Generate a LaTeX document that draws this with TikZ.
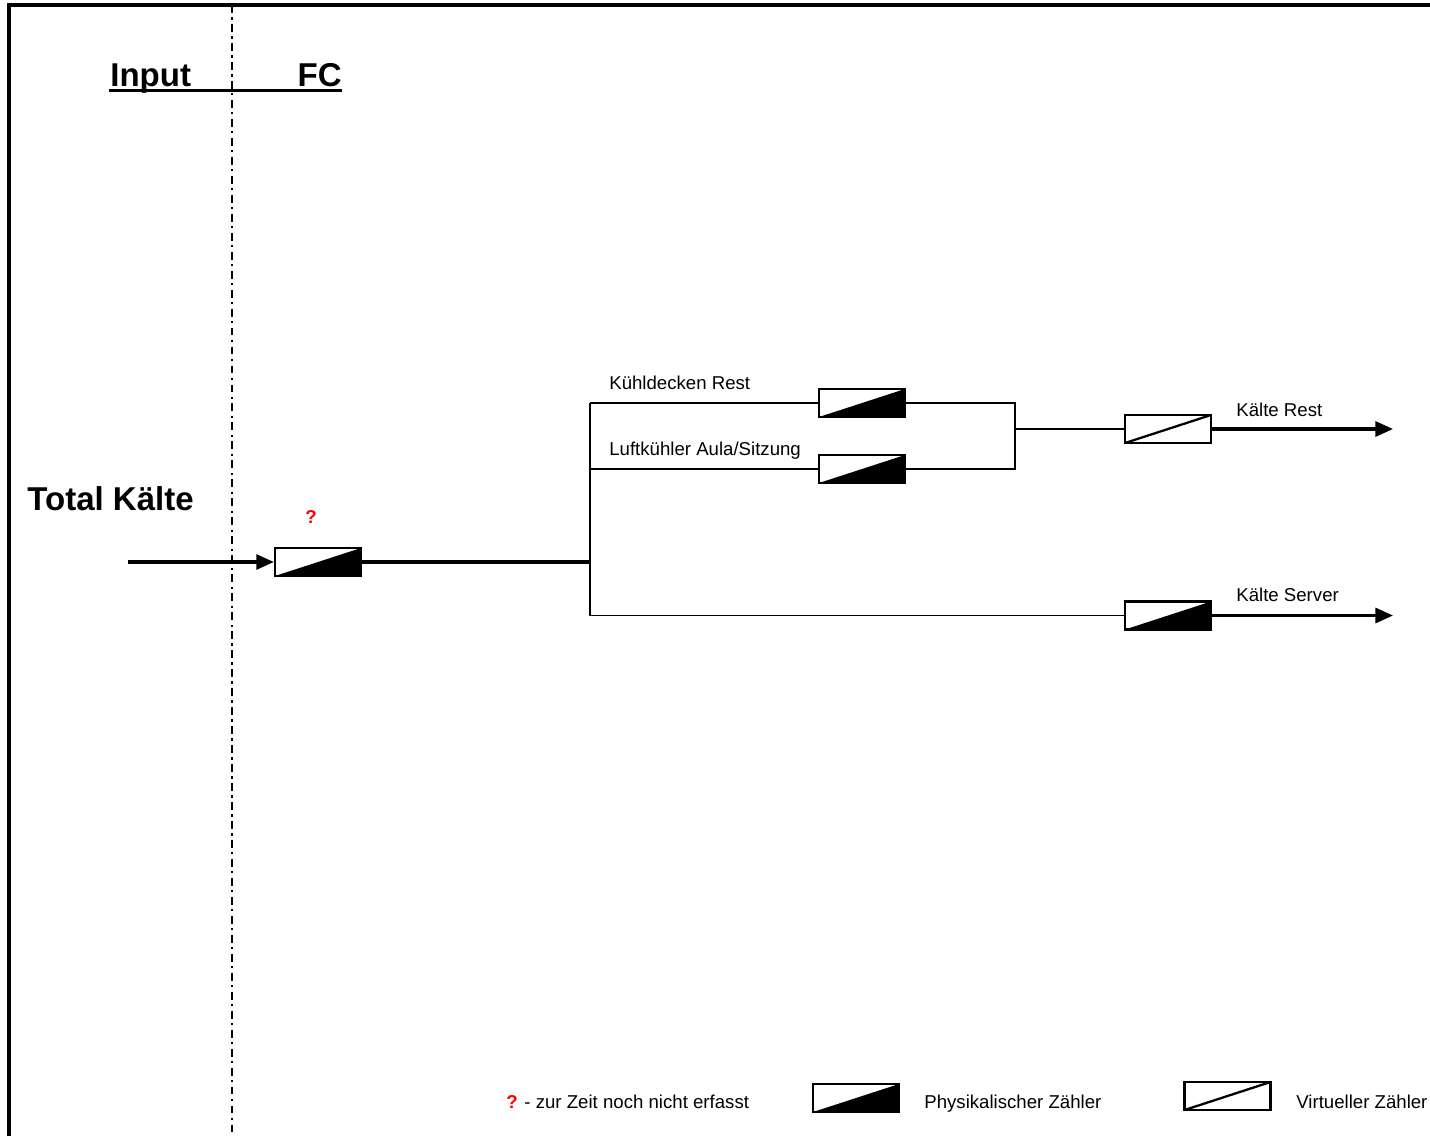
\documentclass[tikz,border=0pt]{standalone}
\usepackage{fontspec}
\setmainfont{Liberation Sans}
\usetikzlibrary{arrows.meta,positioning}

\begin{document}
\begin{tikzpicture}[
  x=0.02cm, y=-0.02cm,
  meter/.style={draw=black, line width=1.3pt, fill=white, minimum width=1.72cm,
                minimum height=0.56cm, inner sep=0pt},
  physmeter/.style={meter, path picture={
      \fill[black] (path picture bounding box.south west)
        -- (path picture bounding box.north east)
        -- (path picture bounding box.south east) -- cycle;}},
  virtmeter/.style={meter, path picture={
      \draw[line width=1.3pt] (path picture bounding box.south west)
        -- (path picture bounding box.north east);}},
  thinline/.style={line width=1pt},
  flow/.style={line width=1.8pt},
  flowarr/.style={flow, -{Triangle[length=10pt, width=8.5pt]}},
  head/.style={font=\bfseries\fontsize{18.8}{20}\selectfont, inner sep=0pt},
  lbl/.style={font=\fontsize{10.6}{12}\selectfont, inner sep=0pt},
  qmark/.style={font=\bfseries\fontsize{10.6}{12}\selectfont, text=red, inner sep=0pt}
]
  \useasboundingbox (0,0) rectangle (1430,1136);

  % Frame and separator
  \draw[line width=1.8pt] (9,1136) -- (9,5) -- (1430,5);
  \draw[line width=1.6pt, dash pattern=on 4.5pt off 2.5pt on 1.3pt off 2.5pt]
    (232,5) -- (232,1136);

  % Column heads
  \node[head, anchor=base west] (input) at (110,86) {Input};
  \node[head, anchor=base east] (fchead) at (342,86) {FC};
  \coordinate (ulstart) at (109,90.5);
  \coordinate (ulend) at (342,90.5);
  \draw[line width=2pt] (ulstart) -- (ulend);

  \node[head, anchor=base west] (total) at (27,510) {Total Kälte};

  % Meters
  \node[physmeter] (fc) at (318,562) {};
  \node[qmark, anchor=base] (fcq) at (311,523) {?};
  \node[physmeter] (kd) at (862,403) {};
  \node[physmeter] (la) at (862,469) {};
  \node[virtmeter] (rest) at (1168,429) {};
  \node[physmeter] (server) at (1168,615.5) {};

  % Branch labels
  \node[lbl, anchor=base west] (kdlbl) at (609,389) {Kühldecken Rest};
  \node[lbl, anchor=base west] (lalbl) at (609,455) {Luftkühler Aula/Sitzung};
  \node[lbl, anchor=base west] (restlbl) at (1236,416) {Kälte Rest};
  \node[lbl, anchor=base west] (serverlbl) at (1236,601) {Kälte Server};

  % Connectors
  \coordinate (inp) at (128,562);
  \coordinate (split) at (590,562);
  \coordinate (top) at (590,403);
  \coordinate (mid) at (590,469);
  \coordinate (bot) at (590,615.5);
  \coordinate (kdr) at (1015,403);
  \coordinate (lar) at (1015,469);
  \coordinate (merge) at (1015,429);
  \coordinate (restend) at (1393,429);
  \coordinate (serverend) at (1393,615.5);

  \draw[flowarr] (inp) -- (fc.west);
  \draw[flow] (fc.east) -- (split);
  \draw[thinline] (top) -- (bot);
  \draw[thinline] (top) -- (kd.west);
  \draw[thinline] (mid) -- (la.west);
  \draw[thinline] (kd.east) -- (kdr) -- (lar) -- (la.east);
  \draw[thinline] (merge) -- (rest.west);
  \draw[thinline] (bot) -- (server.west);
  \draw[flowarr] (rest.east) -- (restend);
  \draw[flowarr] (server.east) -- (serverend);

  % Legend
  \node[qmark, anchor=base west] (legq) at (506,1108) {?};
  \node[lbl, right=0.12cm of legq.base east, anchor=base west]
    (legqtxt) {- zur Zeit noch nicht erfasst};
  \node[physmeter] (legphys) at (856,1098) {};
  \node[lbl, anchor=base west] (legphystxt) at (924,1108) {Physikalischer Zähler};
  \node[virtmeter] (legvirt) at (1227.5,1096) {};
  \node[lbl, anchor=base west] (legvirttxt) at (1296,1108) {Virtueller Zähler};
\end{tikzpicture}
\end{document}
